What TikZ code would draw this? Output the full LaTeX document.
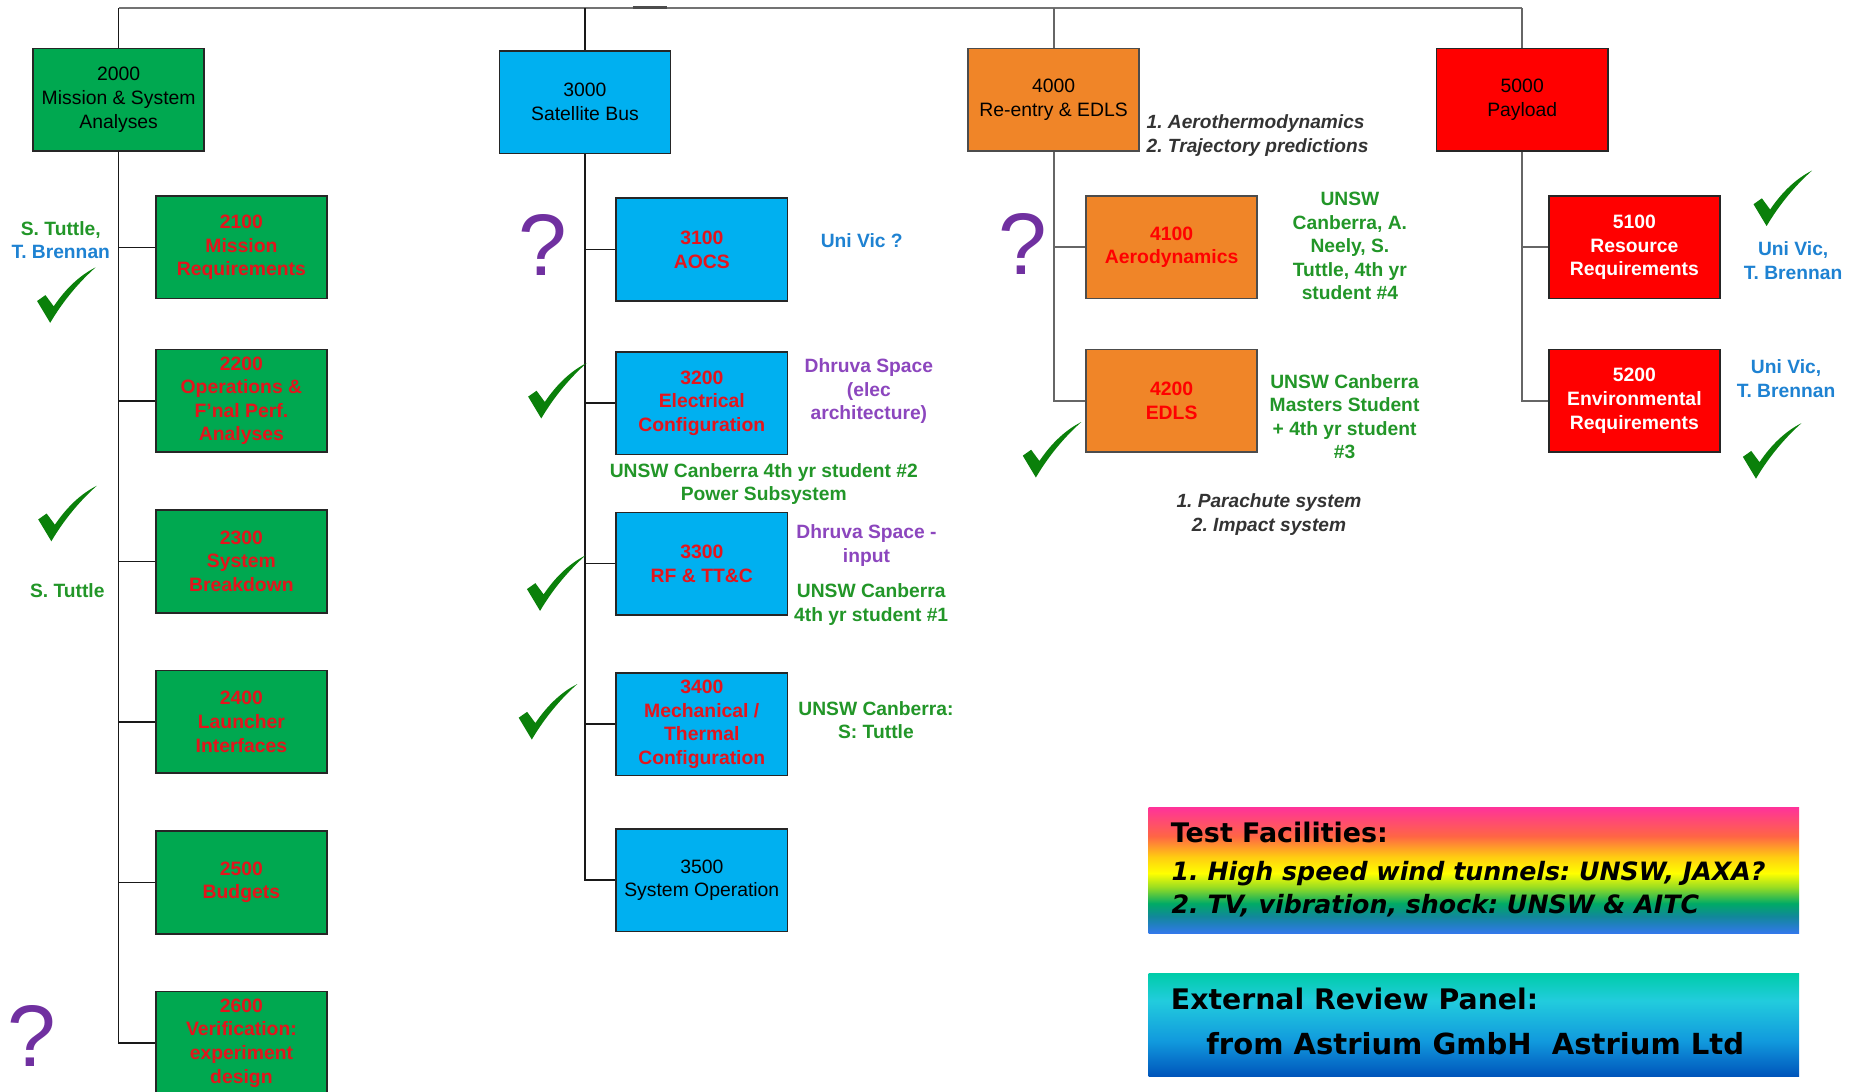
\documentclass[tikz,border=0pt]{standalone}
\usepackage{fontspec}
\setmainfont{Liberation Sans}
\newfontfamily\panelfont{DejaVu Sans}
\usetikzlibrary{positioning}
\frenchspacing

\definecolor{boxgreen}{RGB}{0,168,80}
\definecolor{boxcyan}{RGB}{0,176,240}
\definecolor{boxorange}{RGB}{240,133,40}
\definecolor{boxred}{RGB}{255,0,0}
\definecolor{labelred}{RGB}{228,20,28}
\definecolor{notegreen}{RGB}{34,150,40}
\definecolor{noteblue}{RGB}{30,130,210}
\definecolor{notepurple}{RGB}{140,70,190}
\definecolor{qpurple}{RGB}{112,48,160}
\definecolor{tickgreen}{RGB}{10,128,10}
% rainbow panel
\definecolor{tfpink}{RGB}{255,51,153}
\definecolor{tforange}{RGB}{255,102,68}
\definecolor{tfgold}{RGB}{255,204,17}
\definecolor{tfyellow}{RGB}{255,255,0}
\definecolor{tflime}{RGB}{153,221,34}
\definecolor{tfgreen}{RGB}{0,170,102}
\definecolor{tfteal}{RGB}{17,136,153}
\definecolor{tfblue}{RGB}{51,119,238}
% review panel
\definecolor{ertop}{RGB}{0,204,170}
\definecolor{ercyan}{RGB}{34,204,221}
\definecolor{ermid}{RGB}{17,153,221}
\definecolor{erbot}{RGB}{0,85,187}

\pgfdeclareverticalshading{rainbow}{100bp}{%
  color(0bp)=(tfblue); color(25bp)=(tfblue); color(32bp)=(tfteal);
  color(37bp)=(tfgreen); color(43.5bp)=(tflime); color(49bp)=(tfyellow);
  color(55.5bp)=(tfgold); color(63.5bp)=(tforange); color(75bp)=(tfpink);
  color(100bp)=(tfpink)}
\pgfdeclareverticalshading{seablue}{100bp}{%
  color(0bp)=(erbot); color(25bp)=(erbot); color(42bp)=(ermid);
  color(62bp)=(ercyan); color(75bp)=(ertop); color(100bp)=(ertop)}

\begin{document}
\begin{tikzpicture}[
    x=0.5pt, y=-0.5pt,
    node distance=68pt,
    on grid,
    topbox/.style={draw=black!85, line width=0.7pt, minimum width=72.5pt, minimum height=43.5pt,
        inner sep=1pt, align=center, font=\fontsize{8.2}{10}\selectfont},
    subbox/.style={topbox, text=labelred, font=\bfseries\fontsize{8.2}{10}\selectfont},
    link/.style={draw=black!90, line width=0.65pt},
    greylink/.style={draw=black!60, line width=0.9pt},
    barline/.style={draw=black!55, line width=0.9pt},
    notetext/.style={align=center, inner sep=0pt, font=\bfseries\fontsize{8.15}{10}\selectfont},
    topictext/.style={align=left, inner sep=0pt, text=black!80, font=\bfseries\itshape\fontsize{8.1}{10}\selectfont},
    qmark/.style={text=qpurple, inner sep=0pt, font=\fontsize{37}{37}\selectfont},
    panelbox/.style={minimum width=275.5pt, inner sep=0pt},
    paneltext/.style={anchor=base west, inner sep=0pt, font=\panelfont\bfseries\fontsize{11.4}{13}\selectfont},
    checkmark/.pic={
        \fill[tickgreen] (-24.6,5) -- (-17.5,0) -- (-10.5,9.5)
            .. controls (0,-6) and (12,-17) .. (25,-23.5)
            .. controls (12,-12) and (-2,4) .. (-13.5,23.5) -- cycle;
    }
]

   \fill[white] (0,0) rectangle (1568,925);
   \useasboundingbox (0,0) rectangle (1568,925);

   % Top level boxes
   \node[topbox, fill=boxgreen] (m2000) at (100.5,84.5) {2000\\Mission \& System\\Analyses};
   \node[topbox, fill=boxcyan] (m3000) at (495.5,86.5) {3000\\Satellite Bus};
   \node[topbox, fill=boxorange, draw=black!70] (m4000) at (892.5,84.5) {4000\\Re-entry \& EDLS};
   \node[topbox, fill=boxred] (m5000) at (1289.5,84.5) {5000\\Payload};

   % 2000 branch
   \node[subbox, fill=boxgreen] (m2100) at (204.5,209.5) {2100\\Mission\\Requirements};
   \node[subbox, fill=boxgreen] (m2200) [below=65pt of m2100] {2200\\Operations \&\\F'nal Perf.\\Analyses};
   \node[subbox, fill=boxgreen] (m2300) [below=of m2200] {2300\\System\\Breakdown};
   \node[subbox, fill=boxgreen] (m2400) [below=of m2300] {2400\\Launcher\\Interfaces};
   \node[subbox, fill=boxgreen] (m2500) [below=of m2400] {2500\\Budgets};
   \node[subbox, fill=boxgreen] (m2600) [below=of m2500] {2600\\Verification:\\experiment\\design};

   % 3000 branch
   \node[subbox, fill=boxcyan] (m3100) at (594.5,211.5) {3100\\AOCS};
   \node[subbox, fill=boxcyan] (m3200) [below=65pt of m3100] {3200\\Electrical\\Configuration};
   \node[subbox, fill=boxcyan] (m3300) [below=of m3200] {3300\\RF \& TT\&C};
   \node[subbox, fill=boxcyan] (m3400) [below=of m3300] {3400\\Mechanical /\\Thermal\\Configuration};
   \node[topbox, fill=boxcyan] (m3500) [below=66pt of m3400] {3500\\System Operation};

   % 4000 branch
   \node[subbox, fill=boxorange, draw=black!70, text=boxred] (m4100) at (992.5,209.5) {4100\\Aerodynamics};
   \node[subbox, fill=boxorange, draw=black!70, text=boxred] (m4200) [below=65pt of m4100] {4200\\EDLS};

   % 5000 branch
   \node[subbox, fill=boxred, text=white] (m5100) at (1384.5,209.5) {5100\\Resource\\Requirements};
   \node[subbox, fill=boxred, text=white] (m5200) [below=65pt of m5100] {5200\\Environmental\\Requirements};

   % Tree lines
   \coordinate (bar) at (0,6.5);
   \draw[barline] (bar -| m2000.north) -- (bar -| m5000.north);
   \coordinate (stubL) at (536,6.5);
   \coordinate (stubR) at (565,6.5);
   \draw[line width=1.5pt, black!70] (stubL) -- (stubR);
   \foreach \t/\s in {2000/link,3000/link,4000/greylink,5000/greylink}
      \draw[\s] (m\t.north) -- (bar -| m\t.north);
   \foreach \c in {2100,2200,2300,2400,2500,2600}
      \draw[link] (m2000.south) |- (m\c.west);
   \foreach \c in {3100,3200,3300,3400,3500}
      \draw[link] (m3000.south) |- (m\c.west);
   \foreach \c in {4100,4200}
      \draw[greylink] (m4000.south) |- (m\c.west);
   \foreach \c in {5100,5200}
      \draw[greylink] (m5000.south) |- (m\c.west);

   % People and partners
   \node[notetext] (n2100) at (51.5,203.5) {\textcolor{notegreen}{S. Tuttle,}\\\textcolor{noteblue}{T. Brennan}};
   \node[notetext, text=notegreen] (n2300) at (57,500) {S. Tuttle};
   \node[notetext, text=noteblue] (n3100) at (730,204) {Uni Vic ?};
   \node[notetext, text=notepurple] (n3200) at (736,331.5) {Dhruva Space\\(elec\\architecture)};
   \node[notetext, text=notegreen] (n3200b) at (647,410) {UNSW Canberra 4th yr student \#2\\Power Subsystem};
   \node[notetext, text=notepurple] (n3300) at (734,462) {Dhruva Space -\\input};
   \node[notetext, text=notegreen] (n3300b) at (738,512) {UNSW Canberra\\4th yr student \#1};
   \node[notetext, text=notegreen] (n3400) at (742,610) {UNSW Canberra:\\S: Tuttle};
   \node[notetext, text=notegreen] (n4100) at (1143.5,208.5) {UNSW\\Canberra, A.\\Neely, S.\\Tuttle, 4th yr\\student \#4};
   \node[notetext, text=notegreen] (n4200) at (1139,353) {UNSW Canberra\\Masters Student\\+ 4th yr student\\\#3};
   \node[notetext, text=noteblue] (n5100) at (1519,221) {Uni Vic,\\T. Brennan};
   \node[notetext, text=noteblue] (n5200) at (1513,320.5) {Uni Vic,\\T. Brennan};

   % Topics
   \node[topictext, anchor=west] (t4000) at (971,115) {1. Aerothermodynamics\\2. Trajectory predictions};
   \node[topictext, align=center] (t4200) at (1075,436) {1. Parachute system\\2. Impact system};

   % Open and done marks
   \node[qmark] (q2600) at (27,878) {?};
   \node[qmark] (q3100) at (460,207.5) {?};
   \node[qmark] (q4100) at (866,206.5) {?};
   \pic (c2100) at (56,250) {checkmark};
   \pic (c2300) at (57,435) {checkmark};
   \pic (c3200) at (472,331) {checkmark};
   \pic (c3300) at (471,494) {checkmark};
   \pic (c3400) at (464,603) {checkmark};
   \pic (c4200) at (891,381) {checkmark};
   \pic (c5100) at (1510,168) {checkmark};
   \pic (c5200) at (1501,382) {checkmark};

   % Panels
   \node[panelbox, shading=rainbow, minimum height=53.5pt] (tfbox) at (1248.5,737.5) {};
   \node[panelbox, shading=seablue, minimum height=43.25pt] (erbox) at (1248.5,868.25) {};
   \node[paneltext] (tf1) at (991.5,714) {Test Facilities:};
   \node[paneltext, font=\panelfont\bfseries\itshape\fontsize{10.7}{13}\selectfont] (tf2) at (992,746) {1. High speed wind tunnels: UNSW, JAXA?};
   \node[paneltext, font=\panelfont\bfseries\itshape\fontsize{10.7}{13}\selectfont] (tf3) at (992,774) {2. TV, vibration, shock: UNSW \& AITC};
   \node[paneltext, font=\panelfont\bfseries\fontsize{12}{14}\selectfont] (er1) at (991.5,855) {External Review Panel:};
   \node[paneltext, font=\panelfont\bfseries\fontsize{12.3}{14}\selectfont] (er2) at (1021.5,893) {from Astrium GmbH\ \ Astrium Ltd};

\end{tikzpicture}
\end{document}
